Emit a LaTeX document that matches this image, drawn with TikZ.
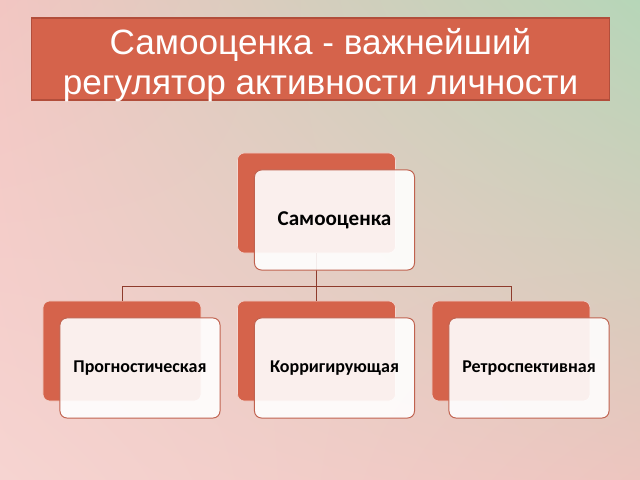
\documentclass[tikz,border=0pt]{standalone}
\usepackage{fontspec}
\setmainfont{Liberation Sans}
\newfontfamily\boxfont{Carlito}
\usetikzlibrary{positioning,shadings}
\definecolor{coral}{HTML}{D5634B}
\definecolor{coraledge}{HTML}{B24E3B}
\definecolor{frontedge}{HTML}{C0624F}
\definecolor{wire}{HTML}{8E3B2C}
\definecolor{bgpink}{HTML}{F2C6C2}
\definecolor{bggreen}{HTML}{B6D6B8}
\definecolor{bgpinklow}{HTML}{F6D4D1}
\definecolor{bgpinkright}{HTML}{EDC5BF}

\begin{document}
\begin{tikzpicture}[x=0.025cm,y=-0.025cm,
    backbox/.style={draw=white!75!coral, fill=coral, rounded corners=5pt,
        minimum width=3.95cm, minimum height=2.5cm, inner sep=0pt},
    frontbox/.style={draw=frontedge, line width=0.7pt, fill=white, fill opacity=0.9,
        text opacity=1, rounded corners=5pt, minimum width=4cm, minimum height=2.5cm,
        inner sep=0pt},
    link/.style={draw=wire, line width=0.6pt}]
    \useasboundingbox (0,0) rectangle (640,480);
    \shade[upper left=bgpink, upper right=bggreen, lower left=bgpinklow, lower right=bgpinkright]
        (0,0) rectangle (640,480);
    % title
    \node[draw=coraledge, fill=coral, line width=0.8pt,
        minimum width=14.425cm, minimum height=2.05cm, inner sep=0pt] (title) at (320.5,59) {};
    \node[text=white, align=center, inner sep=0pt,
        font=\fontsize{25}{28.5}\selectfont] (titletext) at ([yshift=-4.5pt]title.center)
        {Самооценка - важнейший\\регулятор активности личности};
    % back boxes
    \node[backbox] (topback) at (316.5,203) {};
    \node[backbox] (pastback) at (122,351) {};
    \node[backbox] (midback) at (316.5,351) {};
    \node[backbox] (retroback) at (511,351) {};
    % connectors
    \draw[link] (topback.south) -- ++(0,33) coordinate (hub);
    \draw[link] (pastback.north) |- (hub) -| (retroback.north);
    \draw[link] (midback.north) -- (midback.north |- hub);
    % front boxes
    \node[frontbox, font=\boxfont\bfseries\fontsize{15}{17}\selectfont] (self)
        at ([shift={(18,17)}]topback.center) {Самооценка};
    \node[frontbox, font=\boxfont\bfseries\fontsize{12.8}{15}\selectfont] (past)
        at ([shift={(18,17)}]pastback.center) {Прогностическая};
    \node[frontbox, font=\boxfont\bfseries\fontsize{12.8}{15}\selectfont] (corr)
        at ([shift={(18,17)}]midback.center) {Корригирующая};
    \node[frontbox, font=\boxfont\bfseries\fontsize{12.8}{15}\selectfont] (retro)
        at ([shift={(18,17)}]retroback.center) {Ретроспективная};
\end{tikzpicture}
\end{document}
